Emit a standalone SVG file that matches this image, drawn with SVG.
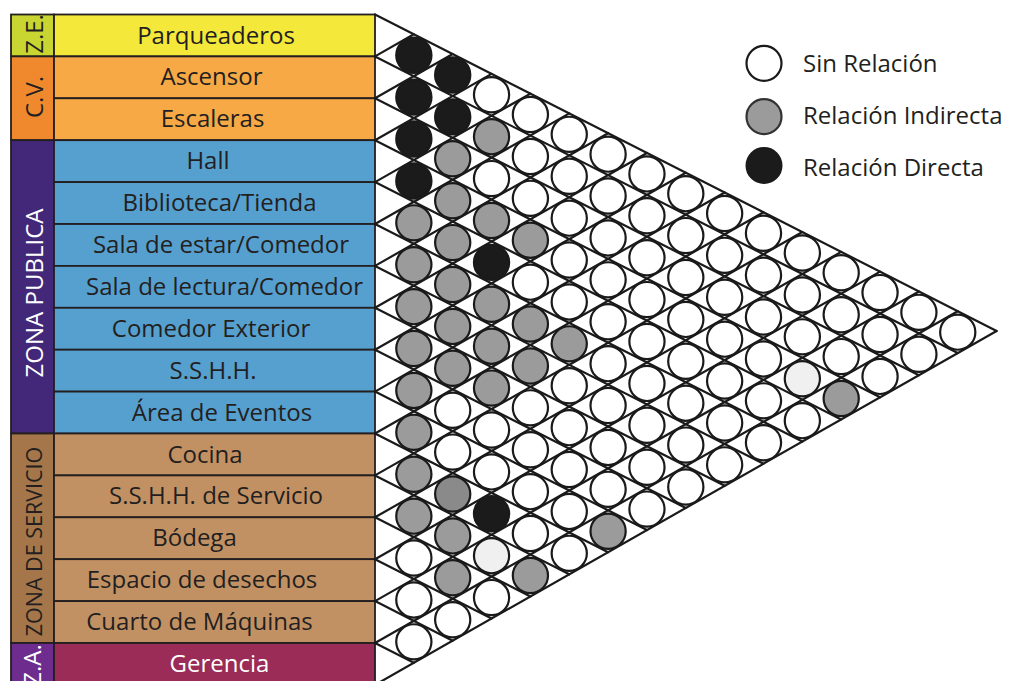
<svg xmlns="http://www.w3.org/2000/svg" width="1010" height="681" viewBox="0 0 1010 681">
<style>
.t{font-family:"Open Sans","Liberation Sans",sans-serif;font-size:24px;fill:#231f20;text-anchor:middle}
.tw{fill:#ffffff}
.lg-t{font-family:"Open Sans","Liberation Sans",sans-serif;font-size:24px;fill:#231f20}
.cell{stroke:#231f20;stroke-width:1.8}
.grid{fill:none;stroke:#1a1a1a;stroke-width:2.2;stroke-linecap:round}
.m circle{stroke:#1a1a1a;stroke-width:2.2}
.w{fill:#ffffff}
.g{fill:#9b9b9b}
.dg{fill:#8a8a8a}
.lt{fill:#f0f0f0}
.b{fill:#1b1b1b}
</style>
<rect width="1010" height="681" fill="#ffffff"/>

<g id="zones">
<rect class="cell" x="11" y="14.5" width="43" height="41.9" fill="#c9d530"/>
<rect class="cell" x="11" y="56.4" width="43" height="83.8" fill="#f0892e"/>
<rect class="cell" x="11" y="140.2" width="43" height="293.3" fill="#43287a"/>
<rect class="cell" x="11" y="433.5" width="43" height="209.5" fill="#a57649"/>
<rect class="cell" x="11" y="643" width="43" height="41.9" fill="#6d2c8e"/>
<text class="t" transform="translate(42.5,34) rotate(-90)">Z.E.</text>
<text class="t" transform="translate(42.5,97) rotate(-90)">C.V.</text>
<text class="t tw" transform="translate(42.5,293) rotate(-90)">ZONA PUBLICA</text>
<text class="t" style="font-size:21.5px" transform="translate(42,541.5) rotate(-90)">ZONA DE SERVICIO</text>
<text class="t tw" transform="translate(41,665) rotate(-90)">Z.A.</text>
</g>

<g id="r0"><rect class="cell" x="54" y="14.5" width="321" height="41.9" fill="#f4e83a"/><text class="t" x="216" y="43.5">Parqueaderos</text></g>
<g id="r1"><rect class="cell" x="54" y="56.4" width="321" height="41.9" fill="#f6a945"/><text class="t" x="211.5" y="85.4">Ascensor</text></g>
<g id="r2"><rect class="cell" x="54" y="98.3" width="321" height="41.9" fill="#f6a945"/><text class="t" x="212.5" y="127.3">Escaleras</text></g>
<g id="r3"><rect class="cell" x="54" y="140.2" width="321" height="41.9" fill="#56a0d0"/><text class="t" x="208" y="169.2">Hall</text></g>
<g id="r4"><rect class="cell" x="54" y="182.1" width="321" height="41.9" fill="#56a0d0"/><text class="t" x="219.5" y="211">Biblioteca/Tienda</text></g>
<g id="r5"><rect class="cell" x="54" y="224" width="321" height="41.9" fill="#56a0d0"/><text class="t" x="221" y="253">Sala de estar/Comedor</text></g>
<g id="r6"><rect class="cell" x="54" y="265.9" width="321" height="41.9" fill="#56a0d0"/><text class="t" x="224.5" y="295">Sala de lectura/Comedor</text></g>
<g id="r7"><rect class="cell" x="54" y="307.8" width="321" height="41.9" fill="#56a0d0"/><text class="t" x="211" y="336.8">Comedor Exterior</text></g>
<g id="r8"><rect class="cell" x="54" y="349.7" width="321" height="41.9" fill="#56a0d0"/><text class="t" x="213" y="378.7">S.S.H.H.</text></g>
<g id="r9"><rect class="cell" x="54" y="391.6" width="321" height="41.9" fill="#56a0d0"/><text class="t" x="222" y="420.6">Área de Eventos</text></g>
<g id="r10"><rect class="cell" x="54" y="433.5" width="321" height="41.9" fill="#c29163"/><text class="t" x="205" y="462.5">Cocina</text></g>
<g id="r11"><rect class="cell" x="54" y="475.4" width="321" height="41.9" fill="#c29163"/><text class="t" x="216" y="504.4">S.S.H.H. de Servicio</text></g>
<g id="r12"><rect class="cell" x="54" y="517.3" width="321" height="41.9" fill="#c29163"/><text class="t" x="194.5" y="546.3">Bódega</text></g>
<g id="r13"><rect class="cell" x="54" y="559.2" width="321" height="41.9" fill="#c29163"/><text class="t" x="202" y="588.2">Espacio de desechos</text></g>
<g id="r14"><rect class="cell" x="54" y="601.1" width="321" height="41.9" fill="#c29163"/><text class="t" x="199.5" y="630">Cuarto de Máquinas</text></g>
<g id="r15"><rect class="cell" x="54" y="643" width="321" height="41.9" fill="#9b2b57"/><text class="t tw" x="219.5" y="672">Gerencia</text></g>

<g id="connectors">
<path class="grid" d="M375 14.5L996.6 331M375 56.4L957.75 353.1M375 98.3L918.9 375.22M375 140.2L880.05 397.34M375 182.1L841.2 419.46M375 224L802.35 441.58M375 265.9L763.5 463.7M375 307.8L724.65 485.82M375 349.7L685.8 507.94M375 391.6L646.95 530.06M375 433.5L608.1 552.18M375 475.4L569.25 574.3M375 517.3L530.4 596.42M375 559.2L491.55 618.54M375 601.1L452.7 640.66M375 643L413.85 662.78"/>
<path class="grid" d="M375 56.4L413.85 34.28M375 98.3L452.7 54.06M375 140.2L491.55 73.84M375 182.1L530.4 93.62M375 224L569.25 113.4M375 265.9L608.1 133.18M375 307.8L646.95 152.96M375 349.7L685.8 172.74M375 391.6L724.65 192.52M375 433.5L763.5 212.3M375 475.4L802.35 232.08M375 517.3L841.2 251.86M375 559.2L880.05 271.64M375 601.1L918.9 291.42M375 643L957.75 311.2M375 684.9L996.6 331"/>
</g>

<g id="matrix" class="m">
<g id="m0" transform="translate(375,35.45)">
<circle class="b" cx="38.85" cy="19.78" r="17.6"/><circle class="b" cx="77.7" cy="39.56" r="17.6"/><circle class="w" cx="116.55" cy="59.34" r="17.6"/><circle class="w" cx="155.4" cy="79.12" r="17.6"/><circle class="w" cx="194.25" cy="98.9" r="17.6"/><circle class="w" cx="233.1" cy="118.68" r="17.6"/><circle class="w" cx="271.95" cy="138.46" r="17.6"/><circle class="w" cx="310.8" cy="158.24" r="17.6"/><circle class="w" cx="349.65" cy="178.02" r="17.6"/><circle class="w" cx="388.5" cy="197.8" r="17.6"/><circle class="w" cx="427.35" cy="217.58" r="17.6"/><circle class="w" cx="466.2" cy="237.36" r="17.6"/><circle class="w" cx="505.05" cy="257.14" r="17.6"/><circle class="w" cx="543.9" cy="276.92" r="17.6"/><circle class="w" cx="582.75" cy="296.7" r="17.6"/>
</g>
<g id="m1" transform="translate(375,77.35)">
<circle class="b" cx="38.85" cy="19.78" r="17.6"/><circle class="b" cx="77.7" cy="39.56" r="17.6"/><circle class="g" cx="116.55" cy="59.34" r="17.6"/><circle class="w" cx="155.4" cy="79.12" r="17.6"/><circle class="w" cx="194.25" cy="98.9" r="17.6"/><circle class="w" cx="233.1" cy="118.68" r="17.6"/><circle class="w" cx="271.95" cy="138.46" r="17.6"/><circle class="w" cx="310.8" cy="158.24" r="17.6"/><circle class="w" cx="349.65" cy="178.02" r="17.6"/><circle class="w" cx="388.5" cy="197.8" r="17.6"/><circle class="w" cx="427.35" cy="217.58" r="17.6"/><circle class="w" cx="466.2" cy="237.36" r="17.6"/><circle class="w" cx="505.05" cy="257.14" r="17.6"/><circle class="w" cx="543.9" cy="276.92" r="17.6"/>
</g>
<g id="m2" transform="translate(375,119.25)">
<circle class="b" cx="38.85" cy="19.78" r="17.6"/><circle class="g" cx="77.7" cy="39.56" r="17.6"/><circle class="w" cx="116.55" cy="59.34" r="17.6"/><circle class="w" cx="155.4" cy="79.12" r="17.6"/><circle class="w" cx="194.25" cy="98.9" r="17.6"/><circle class="w" cx="233.1" cy="118.68" r="17.6"/><circle class="w" cx="271.95" cy="138.46" r="17.6"/><circle class="w" cx="310.8" cy="158.24" r="17.6"/><circle class="w" cx="349.65" cy="178.02" r="17.6"/><circle class="w" cx="388.5" cy="197.8" r="17.6"/><circle class="w" cx="427.35" cy="217.58" r="17.6"/><circle class="w" cx="466.2" cy="237.36" r="17.6"/><circle class="w" cx="505.05" cy="257.14" r="17.6"/>
</g>
<g id="m3" transform="translate(375,161.15)">
<circle class="b" cx="38.85" cy="19.78" r="17.6"/><circle class="g" cx="77.7" cy="39.56" r="17.6"/><circle class="g" cx="116.55" cy="59.34" r="17.6"/><circle class="g" cx="155.4" cy="79.12" r="17.6"/><circle class="w" cx="194.25" cy="98.9" r="17.6"/><circle class="w" cx="233.1" cy="118.68" r="17.6"/><circle class="w" cx="271.95" cy="138.46" r="17.6"/><circle class="w" cx="310.8" cy="158.24" r="17.6"/><circle class="w" cx="349.65" cy="178.02" r="17.6"/><circle class="w" cx="388.5" cy="197.8" r="17.6"/><circle class="lt" cx="427.35" cy="217.58" r="17.6"/><circle class="g" cx="466.2" cy="237.36" r="17.6"/>
</g>
<g id="m4" transform="translate(375,203.05)">
<circle class="g" cx="38.85" cy="19.78" r="17.6"/><circle class="g" cx="77.7" cy="39.56" r="17.6"/><circle class="b" cx="116.55" cy="59.34" r="17.6"/><circle class="w" cx="155.4" cy="79.12" r="17.6"/><circle class="w" cx="194.25" cy="98.9" r="17.6"/><circle class="w" cx="233.1" cy="118.68" r="17.6"/><circle class="w" cx="271.95" cy="138.46" r="17.6"/><circle class="w" cx="310.8" cy="158.24" r="17.6"/><circle class="w" cx="349.65" cy="178.02" r="17.6"/><circle class="w" cx="388.5" cy="197.8" r="17.6"/><circle class="w" cx="427.35" cy="217.58" r="17.6"/>
</g>
<g id="m5" transform="translate(375,244.95)">
<circle class="g" cx="38.85" cy="19.78" r="17.6"/><circle class="g" cx="77.7" cy="39.56" r="17.6"/><circle class="g" cx="116.55" cy="59.34" r="17.6"/><circle class="g" cx="155.4" cy="79.12" r="17.6"/><circle class="g" cx="194.25" cy="98.9" r="17.6"/><circle class="w" cx="233.1" cy="118.68" r="17.6"/><circle class="w" cx="271.95" cy="138.46" r="17.6"/><circle class="w" cx="310.8" cy="158.24" r="17.6"/><circle class="w" cx="349.65" cy="178.02" r="17.6"/><circle class="w" cx="388.5" cy="197.8" r="17.6"/>
</g>
<g id="m6" transform="translate(375,286.85)">
<circle class="g" cx="38.85" cy="19.78" r="17.6"/><circle class="g" cx="77.7" cy="39.56" r="17.6"/><circle class="g" cx="116.55" cy="59.34" r="17.6"/><circle class="g" cx="155.4" cy="79.12" r="17.6"/><circle class="w" cx="194.25" cy="98.9" r="17.6"/><circle class="w" cx="233.1" cy="118.68" r="17.6"/><circle class="w" cx="271.95" cy="138.46" r="17.6"/><circle class="w" cx="310.8" cy="158.24" r="17.6"/><circle class="w" cx="349.65" cy="178.02" r="17.6"/>
</g>
<g id="m7" transform="translate(375,328.75)">
<circle class="g" cx="38.85" cy="19.78" r="17.6"/><circle class="g" cx="77.7" cy="39.56" r="17.6"/><circle class="g" cx="116.55" cy="59.34" r="17.6"/><circle class="w" cx="155.4" cy="79.12" r="17.6"/><circle class="w" cx="194.25" cy="98.9" r="17.6"/><circle class="w" cx="233.1" cy="118.68" r="17.6"/><circle class="w" cx="271.95" cy="138.46" r="17.6"/><circle class="w" cx="310.8" cy="158.24" r="17.6"/>
</g>
<g id="m8" transform="translate(375,370.65)">
<circle class="g" cx="38.85" cy="19.78" r="17.6"/><circle class="w" cx="77.7" cy="39.56" r="17.6"/><circle class="w" cx="116.55" cy="59.34" r="17.6"/><circle class="w" cx="155.4" cy="79.12" r="17.6"/><circle class="w" cx="194.25" cy="98.9" r="17.6"/><circle class="w" cx="233.1" cy="118.68" r="17.6"/><circle class="w" cx="271.95" cy="138.46" r="17.6"/>
</g>
<g id="m9" transform="translate(375,412.55)">
<circle class="g" cx="38.85" cy="19.78" r="17.6"/><circle class="w" cx="77.7" cy="39.56" r="17.6"/><circle class="w" cx="116.55" cy="59.34" r="17.6"/><circle class="w" cx="155.4" cy="79.12" r="17.6"/><circle class="w" cx="194.25" cy="98.9" r="17.6"/><circle class="g" cx="233.1" cy="118.68" r="17.6"/>
</g>
<g id="m10" transform="translate(375,454.45)">
<circle class="g" cx="38.85" cy="19.78" r="17.6"/><circle class="dg" cx="77.7" cy="39.56" r="17.6"/><circle class="b" cx="116.55" cy="59.34" r="17.6"/><circle class="w" cx="155.4" cy="79.12" r="17.6"/><circle class="w" cx="194.25" cy="98.9" r="17.6"/>
</g>
<g id="m11" transform="translate(375,496.35)">
<circle class="g" cx="38.85" cy="19.78" r="17.6"/><circle class="g" cx="77.7" cy="39.56" r="17.6"/><circle class="lt" cx="116.55" cy="59.34" r="17.6"/><circle class="g" cx="155.4" cy="79.12" r="17.6"/>
</g>
<g id="m12" transform="translate(375,538.25)">
<circle class="w" cx="38.85" cy="19.78" r="17.6"/><circle class="g" cx="77.7" cy="39.56" r="17.6"/><circle class="w" cx="116.55" cy="59.34" r="17.6"/>
</g>
<g id="m13" transform="translate(375,580.15)">
<circle class="w" cx="38.85" cy="19.78" r="17.6"/><circle class="w" cx="77.7" cy="39.56" r="17.6"/>
</g>
<g id="m14" transform="translate(375,622.05)">
<circle class="w" cx="38.85" cy="19.78" r="17.6"/>
</g>
</g>

<g id="legend">
<circle cx="764" cy="63.3" r="17.5" fill="#ffffff" stroke="#1a1a1a" stroke-width="2.2"/>
<circle cx="764" cy="116.7" r="17.5" fill="#9b9b9b" stroke="#333333" stroke-width="2.2"/>
<circle cx="764" cy="165.5" r="17.5" fill="#1b1b1b" stroke="#1b1b1b" stroke-width="2"/>
<text class="lg-t" x="803" y="71.5">Sin Relación</text>
<text class="lg-t" x="803" y="124">Relación Indirecta</text>
<text class="lg-t" x="803" y="175.5">Relación Directa</text>
</g>
</svg>
